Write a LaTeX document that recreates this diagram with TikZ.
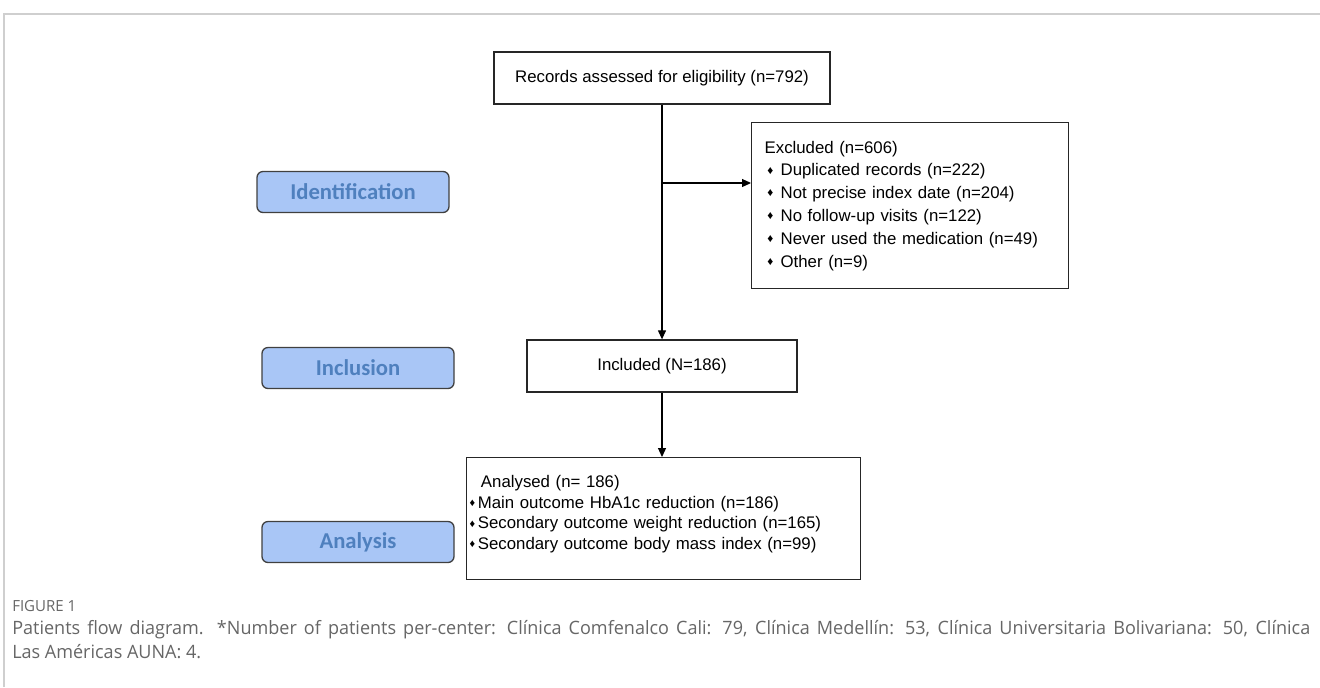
\documentclass[tikz,border=0pt]{standalone}
\usepackage{fontspec}
\setmainfont{Liberation Sans}
\newfontfamily\stagefont{Carlito}
\newfontfamily\capfont[FakeStretch=0.98]{Open Sans}
\usetikzlibrary{arrows.meta}
\definecolor{stagefill}{HTML}{A9C6F6}
\definecolor{stagetext}{HTML}{4F80BE}
\definecolor{framegray}{HTML}{CFCFCF}
\definecolor{captext}{HTML}{666666}
\newcommand{\px}{0.75pt}
\newcommand{\exbul}{\hspace{2pt}\raisebox{0.2ex}{\scalebox{0.7}{♦}}\hspace{5.5pt}}
\newcommand{\anbul}{\raisebox{0.2ex}{\scalebox{0.65}{♦}}\hspace{2pt}}

\begin{document}
\begin{tikzpicture}[x=0.75pt, y=-0.75pt,
  flowbox/.style={draw=black!85, line width=1.3*\px, fill=white,
    font=\fontsize{12.6}{15}\selectfont},
  stagebox/.style={draw=black!75, line width=1.3*\px, fill=stagefill,
    rounded corners=6*\px, minimum width=192*\px, minimum height=41*\px,
    font=\stagefont\bfseries\fontsize{17}{19}\selectfont, text=stagetext},
  flowarrow/.style={-{Triangle[length=9*\px, width=8*\px]}, line width=1.2*\px}]

  \useasboundingbox (0,0) rectangle (1320,687);

  % Page frame
  \draw[framegray, line width=2*\px] (4,687) -- (4,14) -- (1320,14);

  % Stage labels
  \node[stagebox] (identification) at (353,192) {Identification};
  \node[stagebox] (inclusion) at (358,368) {Inclusion};
  \node[stagebox] (analysis) at (358,542) {Analysis};

  % Flow boxes
  \node[flowbox, minimum width=336*\px, minimum height=52*\px] (records) at (662,78)
    {Records assessed for eligibility (n=792)};

  \node[flowbox, anchor=north west, align=left, text width=291*\px, inner xsep=13*\px,
    minimum height=166*\px, font=\fontsize{12.6}{17.1}\selectfont] (excluded) at (751,122) {
      Excluded (n=606)\\
      \exbul Duplicated records (n=222)\\
      \exbul Not precise index date (n=204)\\
      \exbul No follow-up visits (n=122)\\
      \exbul Never used the medication (n=49)\\
      \exbul Other (n=9)};

  \node[flowbox, minimum width=270*\px, minimum height=52*\px] (included) at (662,366)
    {Included (N=186)};

  \node[flowbox, anchor=north west, align=left, text width=388*\px, inner xsep=3*\px,
    inner ysep=0, text height=30*\px, text depth=92*\px,
    font=\fontsize{12.6}{15.5}\selectfont] (analysed) at (466,457) {
      \hspace{8.5pt}Analysed (n= 186)\\
      \anbul Main outcome HbA1c reduction (n=186)\\
      \anbul Secondary outcome weight reduction (n=165)\\
      \anbul Secondary outcome body mass index (n=99)};

  % Connectors
  \coordinate (split) at (662,183);
  \draw[flowarrow] (records.south) -- (records.south |- included.north);
  \draw[flowarrow] (split) -- (split -| excluded.west);
  \draw[flowarrow] (included.south) -- (included.south |- analysed.north);

  % Caption
  \node[anchor=north west, inner sep=0, text=captext,
    font=\capfont\fontsize{11.5}{13}\selectfont] (figlabel) at (12,600) {FIGURE 1};
  \node[anchor=north west, inner sep=0, text=captext, text width=1298*\px, align=justify,
    font=\capfont\fontsize{13.8}{18}\selectfont] (caption) at (12,620)
    {Patients flow diagram. *Number of patients per-center: Clínica Comfenalco Cali: 79, Clínica Medellín: 53, Clínica Universitaria Bolivariana: 50, Clínica\linebreak
     Las Américas AUNA: 4.};

\end{tikzpicture}
\end{document}
